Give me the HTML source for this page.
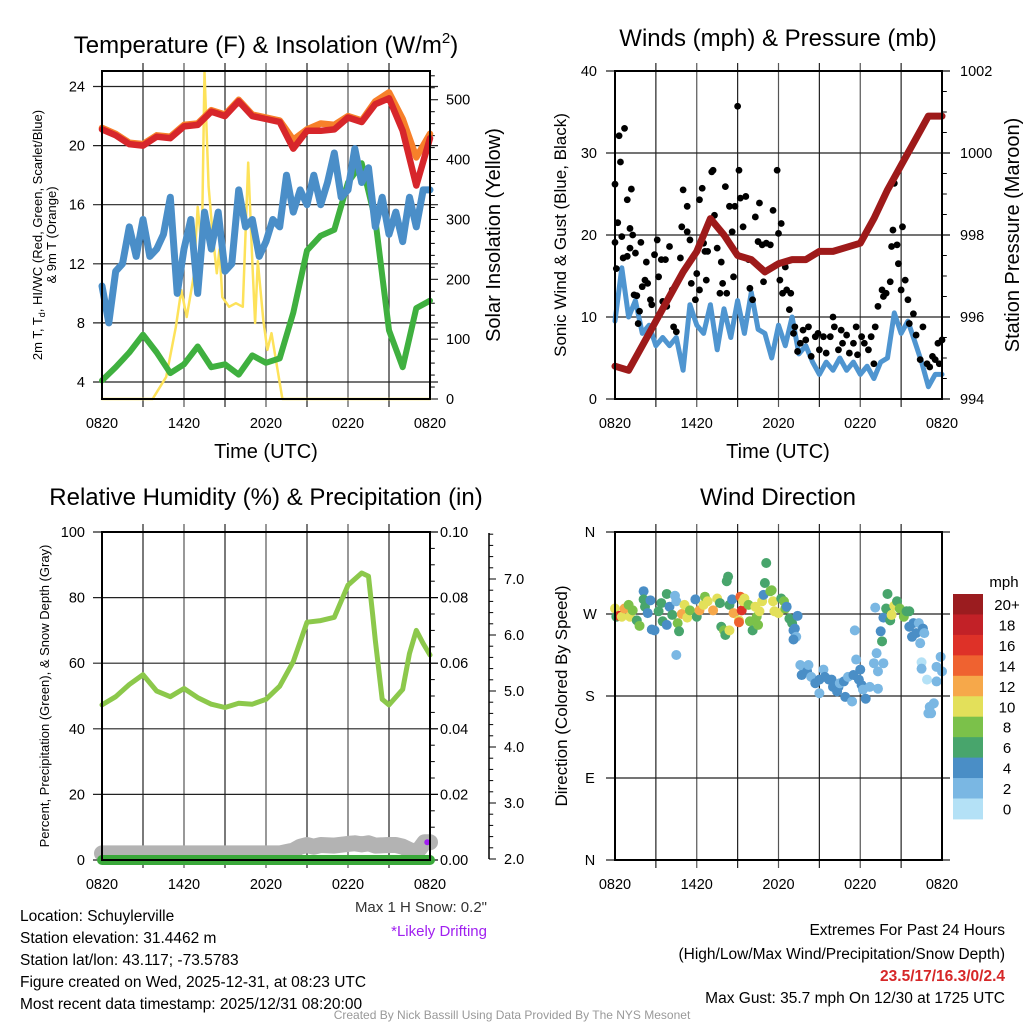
<!DOCTYPE html>
<html><head><meta charset="utf-8">
<style>
html,body{margin:0;padding:0;background:#fff;}
svg{display:block;font-family:"Liberation Sans",Arial,sans-serif;}
</style></head>
<body>
<svg id="chart" width="1024" height="1024" viewBox="0 0 1024 1024">
<g id="static">
<text x="266" y="53" font-size="24" text-anchor="middle">Temperature (F) &amp; Insolation (W/m<tspan font-size="15" dy="-10">2</tspan><tspan dy="10">)</tspan></text>
<text x="778" y="46" font-size="24" text-anchor="middle">Winds (mph) &amp; Pressure (mb)</text>
<text x="266" y="505" font-size="24" text-anchor="middle">Relative Humidity (%) &amp; Precipitation (in)</text>
<text x="778" y="505" font-size="24" text-anchor="middle">Wind Direction</text>
<text x="266" y="458" font-size="20" text-anchor="middle">Time (UTC)</text>
<text x="778" y="458" font-size="20" text-anchor="middle">Time (UTC)</text>
<text transform="translate(42,235) rotate(-90)" font-size="13" text-anchor="middle">2m T, T<tspan font-size="9" dy="3">d</tspan><tspan dy="-3">, HI/WC (Red, Green, Scarlet/Blue)</tspan></text>
<text transform="translate(56,235) rotate(-90)" font-size="13" text-anchor="middle">&amp; 9m T (Orange)</text>
<text transform="translate(500,235) rotate(-90)" font-size="20" text-anchor="middle">Solar Insolation (Yellow)</text>
<text transform="translate(566,235) rotate(-90)" font-size="17" text-anchor="middle">Sonic Wind &amp; Gust (Blue, Black)</text>
<text transform="translate(1019,235) rotate(-90)" font-size="20" text-anchor="middle">Station Pressure (Maroon)</text>
<text transform="translate(49,696) rotate(-90)" font-size="13" text-anchor="middle">Percent, Precipitation (Green), &amp; Snow Depth (Gray)</text>
<text transform="translate(567,696) rotate(-90)" font-size="17" text-anchor="middle">Direction (Colored By Speed)</text>
<text x="487" y="912" font-size="15" text-anchor="end" fill="#333">Max 1 H Snow: 0.2"</text>
<text x="487" y="936" font-size="15" text-anchor="end" fill="#a020f0">*Likely Drifting</text>
<text x="20" y="921" font-size="15.5">Location: Schuylerville</text>
<text x="20" y="943" font-size="15.5">Station elevation: 31.4462 m</text>
<text x="20" y="965" font-size="15.5">Station lat/lon: 43.117; -73.5783</text>
<text x="20" y="987" font-size="15.5">Figure created on Wed, 2025-12-31, at 08:23 UTC</text>
<text x="20" y="1009" font-size="15.5">Most recent data timestamp: 2025/12/31 08:20:00</text>
<text x="1005" y="935" font-size="15.5" text-anchor="end">Extremes For Past 24 Hours</text>
<text x="1005" y="959" font-size="15.5" text-anchor="end">(High/Low/Max Wind/Precipitation/Snow Depth)</text>
<text x="1005" y="981" font-size="15.5" font-weight="bold" fill="#d62728" text-anchor="end">23.5/17/16.3/0/2.4</text>
<text x="1005" y="1003" font-size="15.5" text-anchor="end">Max Gust: 35.7 mph On 12/30 at 1725 UTC</text>
<text x="512" y="1019" font-size="12" fill="#999" text-anchor="middle">Created By Nick Bassill Using Data Provided By The NYS Mesonet</text>
<text x="1004" y="587" font-size="15" text-anchor="middle">mph</text>
</g>
</svg>
<script>
// ---- data ----
const hourly = [0,1,2,3,4,5,6,7,8,9,10,11,12,13,14,15,16,17,18,19,20,21,22,23,24];
const tempRed = [21.1,20.7,20.1,20.0,20.6,20.5,21.3,21.4,22.3,22.0,23.0,22.0,21.8,21.6,19.8,21.0,21.0,21.1,21.9,21.6,22.8,23.2,21.0,17.3,20.5];
const tempOrange = [21.2,20.8,20.2,20.1,20.7,20.6,21.4,21.5,22.4,22.1,23.1,22.1,21.9,21.7,20.4,21.1,21.5,21.4,22.0,21.7,23.0,23.6,21.8,19.2,20.8];
const dewGreen = [4.1,5.0,6.0,7.2,6.0,4.6,5.2,6.4,5.0,5.2,4.5,5.8,5.3,5.6,8.7,12.9,13.9,14.3,17.5,18.8,15.0,7.5,5.0,9.0,9.5];
const halfHours = [0,0.5,1,1.5,2,2.5,3,3.5,4,4.5,5,5.5,6,6.5,7,7.5,8,8.5,9,9.5,10,10.5,11,11.5,12,12.5,13,13.5,14,14.5,15,15.5,16,16.5,17,17.5,18,18.5,19,19.5,20,20.5,21,21.5,22,22.5,23,23.5,24];
const windChillBlue = [10.5,8.0,11.5,12.0,14.5,12.5,15.0,12.5,13.0,14.0,16.5,10.0,13.0,15.0,10.0,15.5,13.0,15.5,11.5,12.0,17.0,14.5,15.0,12.5,13.5,15.0,14.5,18.0,15.5,17.0,16.0,18.0,16.0,17.5,19.5,16.5,17.0,19.8,17.5,18.5,14.5,16.5,14.0,15.5,13.5,16.5,14.5,17.0,17.0];
const solarHours = [0,3.7,4.7,5.4,5.8,6.2,6.7,7.0,7.3,7.5,7.8,8.1,8.4,8.6,8.8,9.3,9.8,10.3,10.7,11.0,11.2,11.4,11.8,12.1,12.4,13.2,24];
const solarValues = [0,0,37,120,182,137,204,321,250,547,355,275,210,250,170,154,160,154,395,230,127,230,132,82,110,0,0];
const windSustained = [9.5,16.0,10,12,8,9,6.5,7.5,6.5,7.5,3.5,11.5,9,8,11.5,6,11,7.5,12,8,13,8.5,8,5,9,6.5,10,5.5,6.5,4.5,3,4.5,3.5,5,3.5,4.5,3,4,2.5,4.5,5,10.5,8,9.5,7,4.5,1.5,3,3];
const pressure = [994.8,994.7,995.3,995.9,996.5,997.1,997.6,998.4,998.0,997.5,997.4,997.1,997.3,997.4,997.4,997.6,997.6,997.7,997.8,998.4,999.1,999.7,1000.3,1000.9,1000.9];
const gustHours = [0,0,0.1,0.2,0.3,0.4,0.7,0.5,0.6,0.9,0.9,1.1,1.1,1.2,1.3,1.4,1.5,1.6,1.7,1.8,1.9,2.0,2.2,2.3,2.4,2.6,2.7,2.9,3.1,3.2,3.4,3.5,3.7,3.8,4.0,4.2,4.3,4.5,4.8,4.9,5.0,5.3,5.3,5.5,5.6,5.9,6.0,6.2,6.2,6.4,6.5,6.6,6.7,6.8,7.1,7.2,7.3,7.5,7.7,7.8,7.9,8.1,8.2,8.4,8.6,8.7,8.8,9.0,9.1,9.2,9.4,9.6,9.8,9.9,10.1,10.3,10.5,10.6,10.8,10.9,11.1,11.4,11.6,11.8,11.9,12.0,12.1,12.2,12.3,12.5,12.6,12.8,12.9,13.1,13.2,13.4,13.6,13.8,14.0,14.2,14.4,14.7,14.9,15.0,15.3,15.5,15.8,16.0,16.1,16.4,16.6,16.7,17.0,17.2,17.5,17.7,17.8,18.1,18.3,18.6,18.8,19.0,19.1,19.3,19.6,19.7,19.9,20.2,20.3,20.4,20.5,20.7,20.8,21.0,21.1,21.3,21.5,21.6,21.9,22.1,22.4,22.6,22.9,23.1,23.3,23.5,23.7,23.8,24.0];
const gustValues = [19.1,26.2,15.9,21.5,32.1,28.9,33.0,19.8,17.2,17.4,24.3,18.4,20.8,25.6,20.0,12.7,17.8,12.6,9.2,10.7,19.1,13.7,14.5,16.7,14.1,12.1,11.5,17.6,19.4,14.9,17.0,11.9,17.0,11.3,18.6,13.3,8.8,8.2,17.2,21.0,25.5,23.5,20.4,19.4,14.1,12.1,15.3,24.3,13.3,25.7,19.0,18.0,14.5,18.0,27.7,27.9,22.4,18.4,12.9,16.7,14.1,25.9,12.9,23.5,20.4,14.9,23.5,35.7,27.9,24.5,21.0,24.7,17.0,13.5,12.1,22.2,19.2,23.9,18.8,14.3,19.0,18.8,23.0,16.3,27.9,20.2,14.5,21.4,12.9,16.1,13.3,10.9,12.9,8.0,8.8,5.8,6.8,8.4,7.2,8.8,5.2,7.6,8.0,6.0,7.6,5.6,7.6,10.0,8.8,6.0,8.4,6.8,7.8,5.6,6.8,8.8,5.4,7.6,6.8,6.0,7.6,4.3,8.8,11.3,13.3,12.5,12.9,14.3,18.6,20.6,26.3,18.8,16.5,13.3,21.0,14.5,12.1,9.2,10.4,7.8,4.8,8.8,4.3,3.9,5.2,4.8,6.8,4.3,7.2];
const rhHours = [0,1,2,3,4,5,6,7,8,9,10,11,12,13,14,15,16,17,18,19,19.5,19.8,20,20.5,21,22,22.5,23,23.5,24];
const rhValues = [47.3,49.8,53.5,56.5,51.5,49.8,52.3,49.5,47.5,46.5,47.8,47.5,49.0,53.0,60.5,72.5,73.0,74.0,83.8,87.5,86.5,75.0,67.0,49.0,47.3,52.0,63.0,70.0,66.0,62.5];
const precipValues = [0,0,0,0,0,0,0,0,0,0,0,0,0,0,0,0,0,0,0,0,0,0,0,0,0];
const snowHours = [0,4,8,13,14,14.5,15,15.5,16,17,18,18.5,19,19.5,20,21,21.5,22,22.5,23,23.3,23.6,24];
const snowValues = [2.1,2.1,2.1,2.1,2.15,2.22,2.25,2.22,2.25,2.24,2.27,2.28,2.26,2.28,2.24,2.25,2.25,2.22,2.16,2.12,2.2,2.3,2.3];
const dirHours = [0,0.1,0.3,0.5,0.7,1.0,1.1,1.3,1.6,1.8,2.1,2.1,2.2,2.4,2.6,2.7,2.9,3.2,3.4,3.5,3.8,3.8,4.0,4.2,4.4,4.5,4.5,4.6,4.7,4.9,5.1,5.3,5.5,5.9,6.0,6.2,6.5,6.6,6.8,7.2,7.5,7.7,7.8,8.0,8.1,8.2,8.3,8.4,8.4,8.6,8.7,9.1,9.1,9.2,9.3,9.4,9.5,9.8,9.9,10.1,10.3,10.4,10.5,10.6,10.8,10.9,11.0,11.1,11.4,11.5,11.6,11.7,12.0,12.2,12.4,12.5,12.6,12.8,13.0,13.1,13.2,13.3,13.1,13.4,13.6,13.8,13.7,14.1,14.2,14.4,14.7,15.0,15.0,15.3,15.4,15.7,15.9,16.0,16.3,16.4,16.5,16.8,16.9,17.1,17.4,17.5,17.6,17.7,17.9,18.0,18.1,18.2,18.4,18.7,19.0,19.1,19.2,19.3,19.3,19.5,19.6,19.7,19.7,19.9,20.0,20.2,20.3,20.5,20.7,20.9,21.2,21.4,21.6,21.6,21.8,21.9,22.1,22.3,22.4,22.5,22.5,22.6,22.7,22.9,23.0,23.1,23.2,23.4,23.6,23.6,23.9,24.0];
const dirDegrees = [276,267,268,267,276,280,267,274,263,257,295,286,278,271,285,253,252,273,282,262,258,292,278,269,290,284,225,260,251,270,280,266,274,286,267,274,280,289,284,274,287,282,256,252,247,306,311,280,252,286,271,263,261,289,274,284,287,280,262,252,278,267,258,273,284,291,304,326,295,296,284,273,271,287,284,276,278,265,260,252,254,245,242,268,214,212,203,207,214,201,194,183,198,209,201,198,198,190,185,190,194,196,179,201,174,203,252,220,198,209,192,187,177,190,216,277,227,207,188,251,240,216,266,276,292,263,269,279,284,276,267,273,273,256,245,260,249,260,238,217,210,254,249,198,161,168,161,172,196,212,223,207];
const dirSpeeds = [10,6,16,10,12,8,10,8,6,8,4,6,6,4,4,4,4,6,6,6,4,6,4,6,2,2,2,8,6,12,10,10,8,4,6,12,10,8,10,12,10,6,6,8,6,6,6,6,10,4,12,10,14,14,16,10,10,8,8,6,10,8,8,10,10,4,6,6,8,8,10,10,10,6,8,8,4,6,6,4,4,2,4,4,2,2,4,4,2,2,4,2,4,2,4,4,4,4,4,4,2,4,4,2,2,4,2,2,4,4,4,2,4,2,2,2,2,2,2,4,6,2,4,6,6,6,10,10,6,8,8,6,6,4,4,4,4,2,2,0,2,4,2,0,2,2,2,2,2,2,2,2];
const speedLabels = ["20+","18","16","14","12","10","8","6","4","2","0"];
const speedColors = ["#b4e1f6","#7ab7e3","#4a8ec6","#48a56c","#7bc14a","#e3e05a","#f6a84a","#ef6230","#de3128","#c22127","#9b1c1f"];
const timeLabels = ["0820","1420","2020","0220","0820"];

// ---- helpers ----
const NS = "http://www.w3.org/2000/svg";
const svg = document.getElementById("chart");
function mk(tag, attrs, parent) {
  const el = document.createElementNS(NS, tag);
  for (const k in attrs) el.setAttribute(k, attrs[k]);
  (parent || svg).appendChild(el);
  return el;
}
const P1 = {x0:102,x1:430,y0:71,y1:399};
const P2 = {x0:615,x1:942,y0:71,y1:399};
const P3 = {x0:102,x1:430,y0:532,y1:860};
const P4 = {x0:615,x1:942,y0:532,y1:860};
function xs(P, h) { return P.x0 + h / 24 * (P.x1 - P.x0); }
function lin(P, lo, hi) { return v => P.y1 - (v - lo) / (hi - lo) * (P.y1 - P.y0); }
const yTemp = lin(P1, 2.85, 25.05);
const ySolar = lin(P1, 0, 548);
const yWind = lin(P2, 0, 40);
const yPres = lin(P2, 994, 1002);
const yRH = lin(P3, 0, 100);
const ySnow = v => 859 - (v - 2) * 56;
const yDir = lin(P4, 0, 360);

function frame(P, name) {
  const g = mk("g", {});
  
  
  for (let i = 1; i < 8; i++) {
    const x = xs(P, i * 3);
    const l = mk("line", {x1:x, x2:x, y1:P.y0 - 8, y2:P.y1 + 8, stroke: i % 2 ? "#222" : "#555", "stroke-width":1.2}, g);
    
    
  }
  timeLabels.forEach((t, i) => {
    const x = xs(P, i * 6);
    const tx = mk("text", {x:x, y:P.y1 + 29, "font-size":14.5, "text-anchor":"middle"}, g);
    tx.textContent = t;
    
    
  });
  return g;
}
function hgrid(g, P, y) {
  const l = mk("line", {x1:P.x0 - 9, x2:P.x1 + 8, y1:y, y2:y, stroke:"#222", "stroke-width":1.2}, g);
  
  
}
function label(g, x, y, txt, anchor, size) {
  const t = mk("text", {x:x, y:y + 5, "font-size":size || 14.5, "text-anchor":anchor}, g);
  t.textContent = txt;
  
  
}
function border(g, P) {
  const r = mk("rect", {x:P.x0, y:P.y0, width:P.x1 - P.x0, height:P.y1 - P.y0, fill:"none", stroke:"#000", "stroke-width":2}, g);
  
  
}
function poly(xsArr, ysArr, P, yf, color, w, name, parent) {
  const pts = xsArr.map((h, i) => xs(P, h).toFixed(1) + "," + yf(ysArr[i]).toFixed(1)).join(" ");
  const el = mk("polyline", {points:pts, fill:"none", stroke:color, "stroke-width":w, "stroke-linejoin":"round", "stroke-linecap":"round"}, parent);
  
  
  return el;
}
function rightTicks(g, x, yf, lo, hi, minor, major, len) {
  for (let v = lo; v <= hi + 1e-9; v += minor) {
    const isMaj = Math.abs(v / major - Math.round(v / major)) < 1e-6;
    const y = yf(v);
    const l = mk("line", {x1:x, x2:x + (isMaj ? len : len * 0.6), y1:y, y2:y, stroke:"#000", "stroke-width":1}, g);
    
    
  }
}

// ---- Panel 1: temperature ----
const g1 = frame(P1, "temperature-panel");
[4,8,12,16,20,24].forEach(v => { hgrid(g1, P1, yTemp(v)); label(g1, 85, yTemp(v), String(v), "end"); });
[0,100,200,300,400,500].forEach(v => label(g1, 446, ySolar(v), String(v), "start"));
rightTicks(g1, P1.x1, ySolar, 0, 540, 20, 100, 8);
poly(solarHours, solarValues, P1, ySolar, "#fde25a", 2.5, "solar-line", g1);
poly(hourly, dewGreen, P1, yTemp, "#3fb03f", 6, "dewpoint-line", g1);
poly(halfHours, windChillBlue, P1, yTemp, "#4a8ec8", 7, "windchill-line", g1);
poly(hourly, tempOrange, P1, yTemp, "#f7802a", 6.5, "temp-9m-line", g1);
poly(hourly, tempRed, P1, yTemp, "#d7262b", 6.5, "temp-2m-line", g1);
border(g1, P1);

// ---- Panel 2: winds ----
const g2 = frame(P2, "winds-panel");
[0,10,20,30,40].forEach(v => { hgrid(g2, P2, yWind(v)); label(g2, 597, yWind(v), String(v), "end"); });
[994,996,998,1000,1002].forEach(v => label(g2, 960, yPres(v), String(v), "start"));
rightTicks(g2, P2.x1, yPres, 994, 1002, 0.5, 2, 8);
poly(halfHours, windSustained, P2, yWind, "#4f95d0", 5, "sustained-wind-line", g2);
gustHours.forEach((h, i) => {
  const c = mk("circle", {cx:xs(P2, h), cy:yWind(gustValues[i]), r:3.4, fill:"#000"}, g2);
  
  
});
poly(hourly, pressure, P2, yPres, "#9e1a1a", 7, "pressure-line", g2);
border(g2, P2);

// ---- Panel 3: humidity ----
const g3 = frame(P3, "humidity-panel");
[0,20,40,60,80,100].forEach(v => { hgrid(g3, P3, yRH(v)); label(g3, 85, yRH(v), String(v), "end"); });
["0.00","0.02","0.04","0.06","0.08","0.10"].forEach((t, i) => label(g3, 440, yRH(i * 20), t, "start"));
rightTicks(g3, P3.x1, yRH, 0, 100, 5, 20, 8);
const snowAxis = mk("line", {x1:489, x2:489, y1:533, y2:859, stroke:"#000", "stroke-width":1.5}, g3);


rightTicks(g3, 489, ySnow, 2, 7.8, 0.2, 1, 7);
["2.0","3.0","4.0","5.0","6.0","7.0"].forEach((t, i) => label(g3, 504, ySnow(2 + i), t, "start"));
poly(rhHours, rhValues, P3, yRH, "#8cc84b", 5, "humidity-line", g3);
poly(snowHours, snowValues, P3, ySnow, "#b3b3b3", 16, "snow-depth-line", g3);
poly(hourly, precipValues, P3, v => yRH(v * 1000), "#3aa83a", 10, "precipitation-line", g3);
const drift = mk("circle", {cx:xs(P3, 23.8), cy:ySnow(2.3), r:3, fill:"#a020f0"}, g3);


border(g3, P3);

// ---- Panel 4: wind direction ----
const g4 = frame(P4, "direction-panel");
["N","E","S","W","N"].forEach((t, i) => { hgrid(g4, P4, yDir(i * 90)); label(g4, 590, yDir(i * 90), t, "middle"); });
dirHours.forEach((h, i) => {
  const idx = Math.min(10, Math.floor(dirSpeeds[i] / 2));
  const c = mk("circle", {cx:xs(P4, h), cy:yDir(dirDegrees[i]), r:5, fill:speedColors[idx]}, g4);
  
  
});
border(g4, P4);
const cb = mk("g", {});


speedLabels.forEach((t, i) => {
  const y = 594 + i * 20.45;
  const r = mk("rect", {x:953, y:y, width:30, height:20.9, fill:speedColors[10 - i]}, cb);
  
  
  const tx = mk("text", {x:1007, y:y + 16, "font-size":15, "text-anchor":"middle"}, cb);
  tx.textContent = t;
  
  
});
</script>
</body></html>
